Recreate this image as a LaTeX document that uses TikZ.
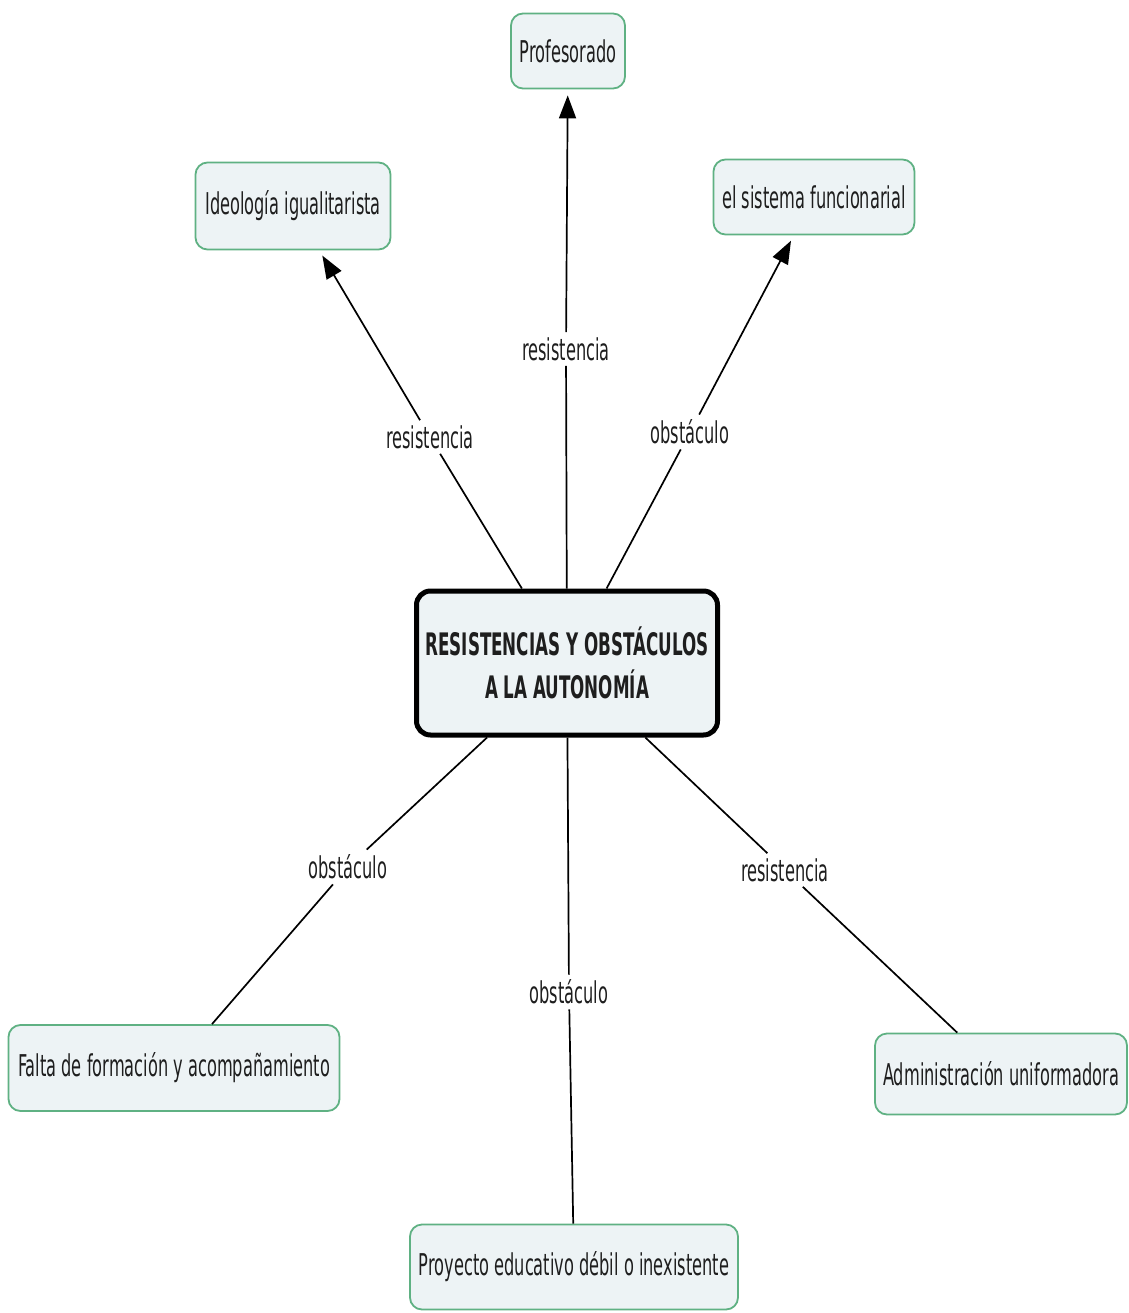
\documentclass[tikz,border=0pt]{standalone}
\usepackage{fontspec}
\setmainfont[FakeStretch=0.54]{DejaVu Sans}
\usetikzlibrary{arrows.meta}
\definecolor{boxfill}{HTML}{EDF3F5}
\definecolor{boxedge}{HTML}{5FB183}
\definecolor{ink}{HTML}{1E1E1E}
\begin{document}
\begin{tikzpicture}[x=1pt,y=-1pt,
  concept/.style={draw=boxedge,line width=1.8pt,fill=boxfill,rounded corners=12pt,
    text=ink,font=\fontsize{30}{36}\selectfont,inner sep=0pt},
  mainconcept/.style={draw=black,line width=5pt,fill=boxfill,rounded corners=14pt,
    text=ink,font=\fontsize{31}{43}\selectfont\bfseries,align=center,inner sep=0pt},
  linklabel/.style={text=ink,font=\fontsize{30}{36}\selectfont,inner sep=5pt},
  link/.style={draw=black,line width=1.7pt},
  arrowlink/.style={link,-{Triangle[length=23pt,width=17pt]},shorten >=6pt}
]
\useasboundingbox (0,0) rectangle (1128,1313);

% concepts
\node[mainconcept,minimum width=301pt,minimum height=144pt] (root) at (567,663)
  {RESISTENCIAS Y OBSTÁCULOS\\A LA AUTONOMÍA};
\node[concept,minimum width=114pt,minimum height=75pt] (prof) at (568,51) {Profesorado};
\node[concept,minimum width=195pt,minimum height=87pt] (ideo) at (293,206) {Ideología igualitarista};
\node[concept,minimum width=201pt,minimum height=75pt] (func) at (814,197) {el sistema funcionarial};
\node[concept,minimum width=331pt,minimum height=86pt] (falta) at (174,1068) {Falta de formación y acompañamiento};
\node[concept,minimum width=328pt,minimum height=85pt] (proy) at (574,1267) {Proyecto educativo débil o inexistente};
\node[concept,minimum width=252pt,minimum height=81pt] (admin) at (1001,1074) {Administración uniformadora};

% link labels
\node[linklabel] (l1) at (430,437) {resistencia};
\node[linklabel] (l2) at (566,349) {resistencia};
\node[linklabel] (l3) at (690,432) {obstáculo};
\node[linklabel] (l4) at (348,867) {obstáculo};
\node[linklabel] (l5) at (569,992) {obstáculo};
\node[linklabel] (l6) at (785,870) {resistencia};

% connectors
\draw[link] (root) -- (l1);
\draw[arrowlink] (l1) -- (ideo);
\draw[link] (root) -- (l2);
\draw[arrowlink] (l2) -- (prof);
\draw[link] (root) -- (l3);
\draw[arrowlink] (l3) -- (func);
\draw[link] (root) -- (l4);
\draw[link] (l4) -- (falta);
\draw[link] (root) -- (l5);
\draw[link] (l5) -- (proy);
\draw[link] (root) -- (l6);
\draw[link] (l6) -- (admin);
\end{tikzpicture}
\end{document}
